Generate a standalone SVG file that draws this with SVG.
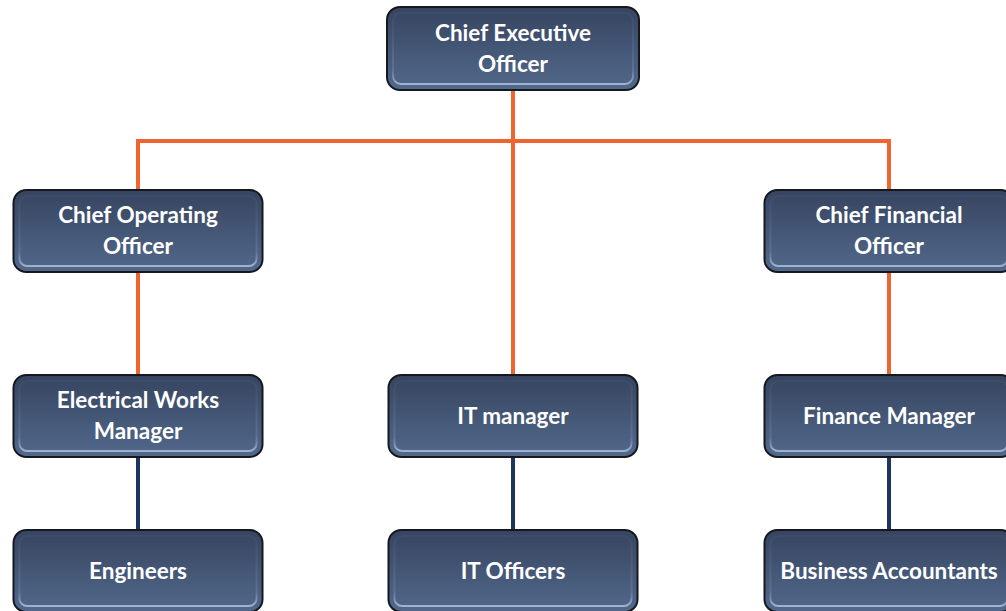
<svg xmlns="http://www.w3.org/2000/svg" width="1006" height="611" viewBox="0 0 1006 611">
<defs>
<linearGradient id="g" x1="0" y1="0" x2="0" y2="1">
<stop offset="0" stop-color="#36445f"/>
<stop offset="1" stop-color="#52698c"/>
</linearGradient>
<linearGradient id="rim" x1="0" y1="0" x2="0" y2="1">
<stop offset="0" stop-color="#4a5a78" stop-opacity="0.3"/>
<stop offset="0.8" stop-color="#6d84a6" stop-opacity="0.5"/>
<stop offset="1" stop-color="#a9bdd9" stop-opacity="0.9"/>
</linearGradient>
<symbol id="box" viewBox="0 0 254 85">
<rect x="1" y="1" width="252" height="83" rx="13" fill="url(#g)" stroke="#15181f" stroke-width="2"/>
<rect x="7" y="7" width="240" height="71" rx="8" fill="none" stroke="url(#rim)" stroke-width="2"/>
</symbol>
</defs>
<style>
.t{font-family:Lato,"Open Sans","Liberation Sans",sans-serif;font-weight:bold;font-size:22.5px;fill:#ffffff;text-anchor:middle}
.o{stroke:#f0652f;stroke-width:4;fill:none}
.n{stroke:#1c3660;stroke-width:4;fill:none}
</style>
<rect width="1006" height="611" fill="#ffffff"/>
<g id="connectors">
<path class="o" d="M513 91V374M138 189V141H889V189M138 273V374M889 273V374"/>
<path class="n" d="M138 458V529M513 458V529M889 458V529"/>
</g>
<g id="ceo"><use href="#box" x="386" y="6" width="254" height="85"/><text class="t" x="513" y="41">Chief Executive</text><text class="t" x="513" y="72">Officer</text></g>
<g id="coo"><use href="#box" x="11" y="189" width="254" height="84"/><text class="t" x="138" y="223">Chief Operating</text><text class="t" x="138" y="254">Officer</text></g>
<g id="cfo"><use href="#box" x="762" y="189" width="254" height="84"/><text class="t" x="889" y="223">Chief Financial</text><text class="t" x="889" y="254">Officer</text></g>
<g id="elec"><use href="#box" x="11" y="374" width="254" height="84"/><text class="t" x="138" y="408">Electrical Works</text><text class="t" x="138" y="439">Manager</text></g>
<g id="itm"><use href="#box" x="386" y="374" width="254" height="84"/><text class="t" x="513" y="424">IT manager</text></g>
<g id="fin"><use href="#box" x="762" y="374" width="254" height="84"/><text class="t" x="889" y="424">Finance Manager</text></g>
<g id="eng"><use href="#box" x="11" y="529" width="254" height="84"/><text class="t" x="138" y="579">Engineers</text></g>
<g id="ito"><use href="#box" x="386" y="529" width="254" height="84"/><text class="t" x="513" y="579">IT Officers</text></g>
<g id="ba"><use href="#box" x="762" y="529" width="254" height="84"/><text class="t" x="889" y="579">Business Accountants</text></g>
</svg>
